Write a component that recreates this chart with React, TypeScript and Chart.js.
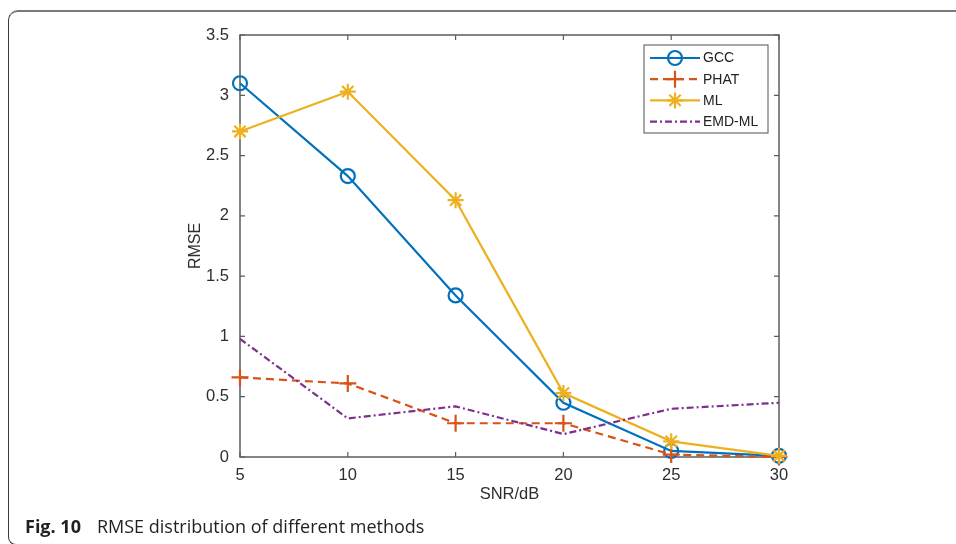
import React, { useEffect, useRef } from 'react';
import { Chart, registerables } from 'chart.js';
import { drawPoint } from 'chart.js/helpers';

Chart.register(...registerables);

// SNR levels (dB) on the x axis
const snrLevels = [5, 10, 15, 20, 25, 30];

// RMSE of each time-delay estimation method
const gccRmse = [3.1, 2.33, 1.34, 0.45, 0.05, 0.01];
const phatRmse = [0.66, 0.61, 0.28, 0.28, 0.02, 0.0];
const mlRmse = [2.7, 3.03, 2.13, 0.53, 0.13, 0.01];
const emdMlRmse = [0.98, 0.32, 0.42, 0.19, 0.4, 0.45];

const seriesNames = ['GCC', 'PHAT', 'ML', 'EMD-ML'];

const xTicks = [5, 10, 15, 20, 25, 30];
const yTicks = [0, 0.5, 1, 1.5, 2, 2.5, 3, 3.5];

const AXIS_COLOR = '#5c5c5c';
const TEXT_COLOR = '#2e2e2e';
const CHART_FONT = '"Liberation Sans", Arial, sans-serif';

const toPoints = (values: number[]) => snrLevels.map((x, i) => ({ x, y: values[i] }));

// Box axes with inward tick marks on all four sides, plus an in-plot legend
const boxAxesPlugin = {
  id: 'boxAxes',
  beforeDatasetsDraw(chart: any) {
    const { ctx, chartArea, scales } = chart;
    const { left, right, top, bottom } = chartArea;
    const x = scales.x;
    const y = scales.y;
    ctx.save();
    ctx.strokeStyle = AXIS_COLOR;
    ctx.lineWidth = 1.5;
    ctx.strokeRect(left, top, right - left, bottom - top);
    ctx.lineWidth = 1.2;
    ctx.beginPath();
    const len = 5;
    xTicks.forEach((v) => {
      const px = x.getPixelForValue(v);
      ctx.moveTo(px, bottom);
      ctx.lineTo(px, bottom - len);
      ctx.moveTo(px, top);
      ctx.lineTo(px, top + len);
    });
    yTicks.forEach((v) => {
      const py = y.getPixelForValue(v);
      ctx.moveTo(left, py);
      ctx.lineTo(left + len, py);
      ctx.moveTo(right, py);
      ctx.lineTo(right - len, py);
    });
    ctx.stroke();
    ctx.restore();
  },
  afterDatasetsDraw(chart: any) {
    const { ctx, chartArea } = chart;
    const boxRight = chartArea.right - 11;
    const boxTop = chartArea.top + 10;
    const boxW = 124;
    const rowH = 21.2;
    const boxH = 88;
    const boxLeft = boxRight - boxW;
    ctx.save();
    ctx.fillStyle = '#ffffff';
    ctx.fillRect(boxLeft, boxTop, boxW, boxH);
    ctx.strokeStyle = '#6e6e6e';
    ctx.lineWidth = 1.2;
    ctx.strokeRect(boxLeft, boxTop, boxW, boxH);
    chart.data.datasets.forEach((ds: any, i: number) => {
      const cy = boxTop + 13 + i * rowH;
      const x0 = boxLeft + 6;
      const x1 = boxLeft + 56;
      ctx.save();
      ctx.strokeStyle = ds.borderColor;
      ctx.lineWidth = ds.borderWidth;
      ctx.setLineDash(ds.borderDash || []);
      ctx.beginPath();
      ctx.moveTo(x0, cy);
      ctx.lineTo(x1, cy);
      ctx.stroke();
      ctx.setLineDash([]);
      if (ds.pointRadius > 0) {
        ctx.fillStyle = 'rgba(0,0,0,0)';
        ctx.lineWidth = ds.pointBorderWidth;
        drawPoint(ctx, { pointStyle: ds.pointStyle, rotation: 0, radius: ds.pointRadius, borderWidth: ds.pointBorderWidth }, (x0 + x1) / 2, cy);
      }
      ctx.restore();
      ctx.fillStyle = '#222222';
      ctx.font = `14px ${CHART_FONT}`;
      ctx.textBaseline = 'middle';
      ctx.textAlign = 'left';
      ctx.fillText(seriesNames[i], x1 + 3, cy + 0.5);
    });
    ctx.restore();
  },
};

export default function App() {
  const canvasRef = useRef<HTMLCanvasElement | null>(null);

  useEffect(() => {
    const canvas = canvasRef.current;
    if (!canvas) return;
    const chart = new Chart(canvas, {
      type: 'line',
      data: {
        datasets: [
          {
            label: seriesNames[0],
            data: toPoints(gccRmse),
            borderColor: '#0072BD',
            borderWidth: 2.2,
            pointStyle: 'circle',
            pointRadius: 7,
            pointBorderWidth: 2.2,
            pointBorderColor: '#0072BD',
            pointBackgroundColor: 'rgba(0,0,0,0)',
            clip: false,
            order: 4,
          },
          {
            label: seriesNames[1],
            data: toPoints(phatRmse),
            borderColor: '#D95319',
            borderWidth: 2.2,
            borderDash: [8, 5],
            pointStyle: 'cross',
            pointRadius: 8.5,
            pointBorderWidth: 2.2,
            pointBorderColor: '#D95319',
            pointBackgroundColor: 'rgba(0,0,0,0)',
            clip: false,
            order: 3,
          },
          {
            label: seriesNames[2],
            data: toPoints(mlRmse),
            borderColor: '#EDB120',
            borderWidth: 2.2,
            pointStyle: 'star',
            pointRadius: 8,
            pointBorderWidth: 2.2,
            pointBorderColor: '#EDB120',
            pointBackgroundColor: 'rgba(0,0,0,0)',
            clip: false,
            order: 2,
          },
          {
            label: seriesNames[3],
            data: toPoints(emdMlRmse),
            borderColor: '#7E2F8E',
            borderWidth: 2.2,
            borderDash: [7, 3, 2, 3],
            pointRadius: 0,
            pointBorderWidth: 0,
            clip: false,
            order: 1,
          },
        ],
      },
      options: {
        responsive: false,
        animation: false,
        devicePixelRatio: 1,
        layout: { padding: { left: 184, right: 177, top: 35, bottom: 40 } },
        plugins: {
          legend: { display: false },
          tooltip: { enabled: false },
        },
        elements: { line: { tension: 0 } },
        scales: {
          x: {
            type: 'linear',
            min: 5,
            max: 30,
            afterBuildTicks: (scale: any) => {
              scale.ticks = xTicks.map((value) => ({ value }));
            },
            afterFit: (scale: any) => {
              scale.height = 47;
            },
            grid: { display: false, drawTicks: false, tickLength: 0 },
            border: { display: false },
            ticks: {
              padding: 9,
              color: TEXT_COLOR,
              font: { family: CHART_FONT, size: 16.5 },
              maxRotation: 0,
              callback: (value: any) => String(value),
            },
            title: {
              display: true,
              text: 'SNR/dB',
              color: TEXT_COLOR,
              font: { family: CHART_FONT, size: 16.5 },
              padding: { top: 0, bottom: 0 },
            },
          },
          y: {
            type: 'linear',
            min: 0,
            max: 3.5,
            afterBuildTicks: (scale: any) => {
              scale.ticks = yTicks.map((value) => ({ value }));
            },
            afterFit: (scale: any) => {
              scale.width = 56;
            },
            grid: { display: false, drawTicks: false, tickLength: 0 },
            border: { display: false },
            ticks: {
              padding: 11,
              color: TEXT_COLOR,
              font: { family: CHART_FONT, size: 16.5 },
              callback: (value: any) => String(value),
            },
            title: {
              display: true,
              text: 'RMSE',
              color: TEXT_COLOR,
              font: { family: CHART_FONT, size: 16 },
              padding: { top: 2, bottom: 0 },
            },
          },
        },
      },
      plugins: [boxAxesPlugin],
    } as any);
    return () => chart.destroy();
  }, []);

  return (
    <div
      style={{
        position: 'fixed',
        left: 0,
        top: 0,
        width: 956,
        height: 544,
        overflow: 'hidden',
        background: '#ffffff',
      }}
    >
      <div
        style={{
          position: 'absolute',
          left: 8,
          top: 10,
          width: 1100,
          height: 535,
          borderTop: '2px solid #7a7a7a',
          borderLeft: '1.5px solid #3a3a3a',
          borderBottom: '1.5px solid #3a3a3a',
          borderTopLeftRadius: 10,
          borderBottomLeftRadius: 8,
          boxSizing: 'border-box',
        }}
      />
      <canvas
        ref={canvasRef}
        width={956}
        height={544}
        style={{ position: 'absolute', left: 0, top: 0, width: 956, height: 544 }}
      />
      <div
        style={{
          position: 'absolute',
          left: 25,
          top: 514,
          fontFamily: '"Open Sans", "Noto Sans", sans-serif',
          fontSize: 18,
          lineHeight: '24px',
          color: '#231f20',
          whiteSpace: 'nowrap',
        }}
      >
        <b>Fig. 10</b>
        <span style={{ marginLeft: 16 }}>RMSE distribution of different methods</span>
      </div>
    </div>
  );
}
